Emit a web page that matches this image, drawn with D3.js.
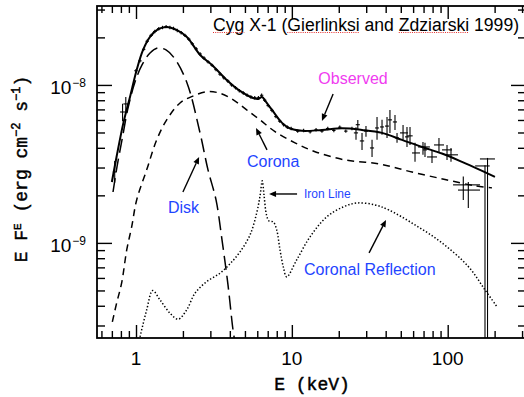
<!DOCTYPE html>
<html><head><meta charset="utf-8">
<script src="https://cdn.jsdelivr.net/npm/d3@7"></script>
<style>html,body{margin:0;padding:0;background:#fff;overflow:hidden}svg{display:block}</style>
</head><body><svg id="c" width="524" height="397"></svg>
<script>
// ---- data (E in keV, E F_E in units of 1e-9 erg cm^-2 s^-1) ----
const totalModel = [[0.70,2.43],[0.75,3.50],[0.83,5.75],[0.915,8.39],[1.01,12.44],[1.11,16.65],[1.23,20.13],[1.38,22.46],[1.57,23.29],[1.82,22.29],[2.12,20.13],[2.58,15.48],[3.12,13.19],[3.82,10.75],[4.65,9.16],[5.63,8.27],[6.07,8.15],[6.44,8.39],[6.83,7.80],[7.46,6.95],[8.65,5.75],[9.59,5.34],[11.6,5.12],[15.6,5.19],[21.0,5.31],[28.2,5.19],[37.9,4.97],[50.9,4.49],[68.4,4.05],[91.9,3.68],[123.5,3.26],[161,2.90],[201,2.62]];
const diskModel = [[0.712,2.10],[0.755,3.03],[0.813,4.49],[0.889,7.15],[0.985,10.44],[1.093,13.39],[1.23,15.94],[1.384,17.15],[1.558,16.65],[1.779,14.6],[2.125,10.3],[2.575,4.97],[2.897,2.90],[3.262,1.87],[3.563,1.045],[3.893,0.542],[4.193,0.281],[4.317,0.236]];
const coronaModel = [[0.705,0.316],[0.7515,0.417],[0.809,0.558],[0.872,0.903],[0.938,1.263],[1.01,1.87],[1.171,2.90],[1.358,4.49],[1.574,6.01],[1.916,7.69],[2.278,8.43],[2.842,9.07],[3.459,8.86],[4.211,8.04],[5.13,6.95],[6.246,6.01],[7.80,5.06],[10.48,4.30],[14.08,3.78],[21.93,3.35],[36.25,3.16],[59.0,2.81],[96.1,2.52],[149.7,2.30],[192.4,2.23]];
const reflectionModel = [[1.061,0.254],[1.171,0.377],[1.280,0.499],[1.426,0.436],[1.652,0.359],[1.868,0.329],[2.115,0.377],[2.391,0.480],[2.842,0.569],[3.459,0.643],[4.009,0.737],[4.649,0.877],[5.389,1.123],[5.95,1.548],[6.246,1.98],[6.46,2.47],[6.627,2.01],[6.876,1.504],[7.135,1.377],[7.603,1.358],[7.993,1.209],[8.395,0.903],[8.814,0.705],[9.268,0.609],[10.74,0.780],[13.08,1.092],[16.73,1.461],[21.38,1.69],[26.18,1.79],[34.16,1.74],[41.8,1.618],[61.7,1.30],[91.9,1.0],[136.3,0.705],[173.5,0.504],[207.2,0.394]];
// dense observed points (small error bars)
const denseData = [[1.00,12.3],[1.06,14.2],[1.12,16.8],[1.18,18.9],[1.25,20.6],[1.32,21.8],[1.40,22.7],[1.48,23.1],[1.56,23.4],[1.65,23.1],[1.74,22.8],[1.84,22.1],[1.95,21.4],[2.06,20.6],[2.18,19.5],[2.30,18.2],[2.44,16.9],[2.58,15.7],[2.73,14.8],[2.90,14.0],[3.08,13.3],[3.26,12.5],[3.46,11.7],[3.66,11.1],[3.88,10.6],[4.10,10.0],[4.35,9.6],[4.60,9.2],[4.88,8.9],[5.16,8.6],[5.46,8.4],[5.78,8.3],[6.10,8.3],[6.40,8.6],[6.70,8.0],[7.05,7.4],[7.45,6.9],[7.90,6.3],[8.35,5.9],[8.85,5.6],[9.35,5.4],[9.9,5.3],[10.9,5.1],[11.9,5.15],[13.1,5.05],[14.3,5.2],[15.6,5.1],[17.0,5.3],[18.6,5.15],[20.3,5.4],[22.2,5.1],[24.3,5.3]];
const denseErrE = 0.025, denseErrF = 0.025;
// sparse observed points: [E, F, Elo, Ehi, Flo, Fhi]
const sparseData = [
 [0.73,2.81,0.71,0.75,2.4,3.3],[0.82,6.74,0.79,0.86,5.9,7.6],[0.86,7.58,0.83,0.89,6.8,8.4],
 [25.8,4.97,25.0,26.6,4.5,5.4],[26.5,5.6,25.7,27.3,5.2,6.0],[28.2,4.42,27.3,29.1,3.88,4.97],[29.9,5.1,29.0,30.8,4.7,5.5],
 [32.7,3.99,31.7,33.7,3.50,4.49],[35.2,5.34,34.2,36.2,4.49,6.27],[37.9,5.42,36.8,39.0,4.83,6.01],[40.8,5.49,39.6,42.0,4.62,6.27],
 [42.6,6.01,41.3,43.9,4.97,6.95],[45.9,5.83,44.5,47.3,5.19,6.46],[47.3,4.62,45.9,48.7,4.30,4.97],[51.7,4.97,49.4,55.6,4.49,5.58],
 [54.8,4.69,53.2,56.4,4.05,5.42],[57.3,4.76,55.0,59.6,4.17,5.42],[61.7,3.71,59.0,66.4,3.26,4.30],[69.4,4.05,64.5,76.9,3.61,4.36],
 [71.5,3.88,69.4,73.6,3.5,4.3],[79.3,3.50,73.7,85.4,3.21,3.88],[87.9,4.17,81.7,94.7,3.71,4.62],[99.0,3.88,91.9,106.6,3.35,4.17],
 [105,3.61,96.1,116.4,3.26,3.99],[125.9,2.33,108.2,161.2,1.87,2.63],[135.6,2.16,116.4,161.2,1.666,2.43],
 [180.1,3.40,161,201,0.01,3.45],[173.5,3.07,150,186,0.01,3.10]];
const xMajor = [1,10,100];
const xMinor = [0.6,0.7,0.8,0.9,2,3,4,5,6,7,8,9,20,30,40,50,60,70,80,90,200,300];
const yMajor = [1,10];
const yMinor = [0.3,0.4,0.5,0.6,0.7,0.8,0.9,2,3,4,5,6,7,8,9,20,30];
const yTickLabels = [["10","\u22129",1],["10","\u22128",10]];
const xTickLabels = ["1","10","100"];

// ---- layout ----
const L=97, R=526, T=6, B=338;
const svg = d3.select("#c");
const x = d3.scaleLog().domain([0.562,318]).range([L,R]);
const y = d3.scaleLog().domain([0.25,31.6]).range([B,T]);
const BLUE="#1f45ff", MAG="#f03cf0";

svg.append("defs").append("clipPath").attr("id","clip").append("rect")
  .attr("x",L).attr("y",T).attr("width",R-L).attr("height",B-T);
const plot = svg.append("g").attr("clip-path","url(#clip)");

const line = d3.line().x(d=>x(d[0])).y(d=>y(d[1])).curve(d3.curveCatmullRom.alpha(0.5));
plot.append("path").datum(diskModel).attr("d",line).attr("fill","none").attr("stroke","#000").attr("stroke-width",1.5).attr("stroke-dasharray","14,6");
plot.append("path").datum(coronaModel).attr("d",line).attr("fill","none").attr("stroke","#000").attr("stroke-width",1.5).attr("stroke-dasharray","7,5");
plot.append("path").datum(reflectionModel).attr("d",line).attr("fill","none").attr("stroke","#000").attr("stroke-width",1.5).attr("stroke-dasharray","1.4,2");
plot.append("path").datum(totalModel).attr("d",line).attr("fill","none").attr("stroke","#000").attr("stroke-width",2);

const eb = plot.append("g").attr("stroke","#000").attr("stroke-width",1.1);
denseData.forEach(d=>{
  eb.append("line").attr("x1",x(d[0])).attr("x2",x(d[0])).attr("y1",y(d[1]*(1-denseErrF))).attr("y2",y(d[1]*(1+denseErrF)));
  eb.append("line").attr("x1",x(d[0]*(1-denseErrE))).attr("x2",x(d[0]*(1+denseErrE))).attr("y1",y(d[1])).attr("y2",y(d[1]));
});
sparseData.forEach(d=>{
  eb.append("line").attr("x1",x(d[0])).attr("x2",x(d[0])).attr("y1",y(Math.max(d[4],0.2))).attr("y2",y(d[5]));
  eb.append("line").attr("x1",x(d[2])).attr("x2",x(d[3])).attr("y1",y(d[1])).attr("y2",y(d[1]));
});

// ---- axes ----
function axisStyle(g){ g.select(".domain").remove(); g.selectAll("line").attr("stroke","#000").attr("stroke-width",1.4); }
svg.append("g").attr("transform",`translate(0,${B})`).call(d3.axisBottom(x).tickValues(xMajor).tickSize(-13).tickFormat("")).call(axisStyle);
svg.append("g").attr("transform",`translate(0,${B})`).call(d3.axisBottom(x).tickValues(xMinor).tickSize(-7).tickFormat("")).call(axisStyle);
svg.append("g").attr("transform",`translate(0,${T})`).call(d3.axisTop(x).tickValues(xMajor).tickSize(-13).tickFormat("")).call(axisStyle);
svg.append("g").attr("transform",`translate(0,${T})`).call(d3.axisTop(x).tickValues(xMinor).tickSize(-7).tickFormat("")).call(axisStyle);
svg.append("g").attr("transform",`translate(${L},0)`).call(d3.axisLeft(y).tickValues(yMajor).tickSize(-15).tickFormat("")).call(axisStyle);
svg.append("g").attr("transform",`translate(${L},0)`).call(d3.axisLeft(y).tickValues(yMinor).tickSize(-8).tickFormat("")).call(axisStyle);
svg.append("g").attr("transform",`translate(${R},0)`).call(d3.axisRight(y).tickValues(yMajor).tickSize(-15).tickFormat("")).call(axisStyle);
svg.append("g").attr("transform",`translate(${R},0)`).call(d3.axisRight(y).tickValues(yMinor).tickSize(-8).tickFormat("")).call(axisStyle);
svg.append("rect").attr("x",L).attr("y",T).attr("width",R-L).attr("height",B-T).attr("fill","none").attr("stroke","#000").attr("stroke-width",1.8);

// tick labels
xMajor.forEach((v,i)=>{
  svg.append("text").attr("x",x(v)).attr("y",365).attr("text-anchor","middle")
    .attr("font-family","Liberation Sans, Arial, sans-serif").attr("font-size",19).text(xTickLabels[i]);
});
yTickLabels.forEach(t=>{
  const tx = svg.append("text").attr("x",86).attr("y",y(t[2])+9).attr("text-anchor","end")
    .attr("font-family","Liberation Sans, Arial, sans-serif").attr("font-size",19);
  tx.append("tspan").text(t[0]);
  tx.append("tspan").attr("dy",-7).attr("font-size",12).attr("dx",1).text(t[1]);
});
// axis titles
svg.append("text").attr("x",312).attr("y",390).attr("text-anchor","middle")
  .attr("font-family","Liberation Mono, Courier New, monospace").attr("font-size",18)
  .attr("stroke","#000").attr("stroke-width",0.45).text("E (keV)");
const yt = svg.append("text").attr("transform","translate(27,169) rotate(-90)").attr("text-anchor","middle")
  .attr("font-family","Liberation Mono, Courier New, monospace").attr("font-size",18)
  .attr("stroke","#000").attr("stroke-width",0.45);
yt.append("tspan").text("E F");
yt.append("tspan").attr("font-size",11).attr("dy",-6).text("E");
yt.append("tspan").attr("dy",6).text(" (erg cm");
yt.append("tspan").attr("font-size",12).attr("dy",-7).text("\u22122");
yt.append("tspan").attr("dy",7).text(" s");
yt.append("tspan").attr("font-size",12).attr("dy",-7).text("\u22121");
yt.append("tspan").attr("dy",7).text(")");

// title
const title = svg.append("text").attr("x",213).attr("y",30.5)
  .attr("font-family","Liberation Sans, Arial, sans-serif").attr("font-size",17.6)
  .text("Cyg X-1 (Gierlinksi and Zdziarski 1999)");
const tn = title.node(), txt = tn.textContent;
["Cyg","Gierlinksi","Zdziarski"].forEach(w=>{
  const i = txt.indexOf(w);
  const s = tn.getStartPositionOfChar(i).x, e = tn.getEndPositionOfChar(i+w.length-1).x;
  svg.append("line").attr("x1",s).attr("x2",e).attr("y1",32.5).attr("y2",32.5)
    .attr("stroke","#e53030").attr("stroke-width",1.2).attr("stroke-dasharray","1,1.2");
});

// annotations
const labels = [
  ["Observed",24.7,10.15,MAG,16,"middle"],
  ["Corona",5.15,3.02,BLUE,16,"start"],
  ["Disk",1.604,1.55,BLUE,16,"start"],
  ["Iron Line",11.97,1.93,BLUE,12,"start"],
  ["Coronal Reflection",11.97,0.627,BLUE,16,"start"]];
labels.forEach(l=>{
  svg.append("text").attr("x",x(l[1])).attr("y",y(l[2])).attr("fill",l[3]).attr("font-size",l[4])
    .attr("text-anchor",l[5]).attr("font-family","Liberation Sans, Arial, sans-serif").text(l[0]);
});
const arrows = [
  [[18.4,8.77],[15.6,5.92]],
  [[6.93,3.88],[5.89,5.34]],
  [[2.00,2.10],[2.54,3.50]],
  [[10.8,2.04],[7.14,2.04]],
  [[31.3,0.865],[40.2,1.398]]];
arrows.forEach(a=>{
  const x1=x(a[0][0]), y1=y(a[0][1]), x2=x(a[1][0]), y2=y(a[1][1]);
  const ang = Math.atan2(y2-y1,x2-x1), hl=7, hw=3;
  const bx = x2-hl*Math.cos(ang), by=y2-hl*Math.sin(ang);
  svg.append("line").attr("x1",x1).attr("y1",y1).attr("x2",bx).attr("y2",by).attr("stroke","#000").attr("stroke-width",1.4);
  svg.append("path").attr("d",`M${x2},${y2}L${bx-hw*Math.sin(ang)},${by+hw*Math.cos(ang)}L${bx+hw*Math.sin(ang)},${by-hw*Math.cos(ang)}Z`).attr("fill","#000");
});
</script></body></html>
